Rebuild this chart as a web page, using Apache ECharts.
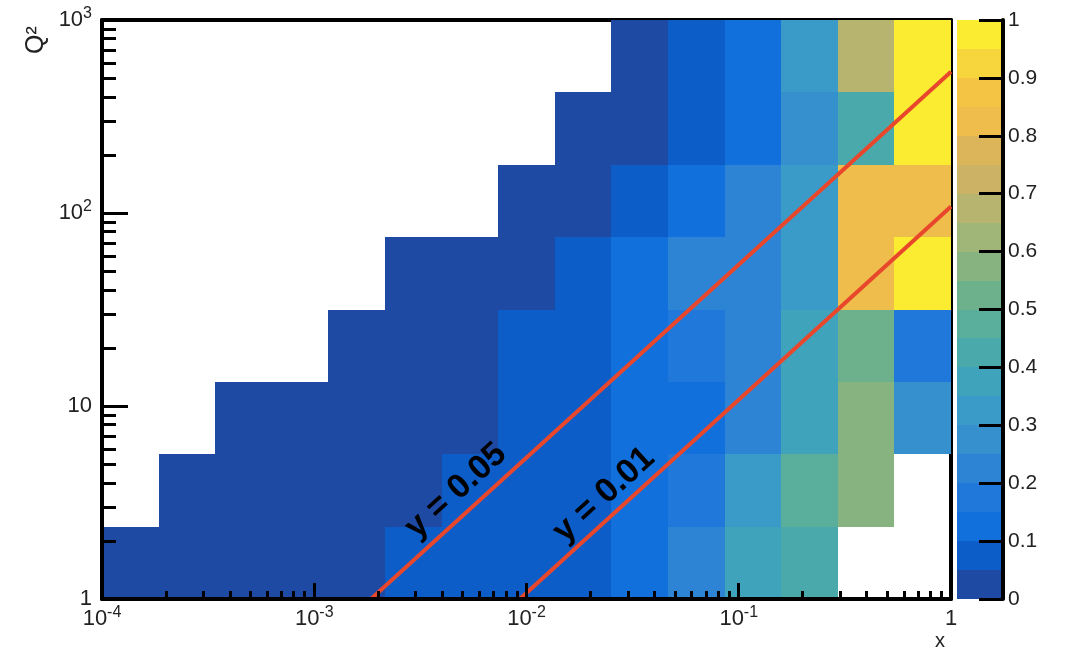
<!DOCTYPE html>
<html>
<head>
<meta charset="utf-8">
<script src="https://cdn.jsdelivr.net/npm/echarts@6/dist/echarts.min.js"></script>
<style>
  html, body { margin: 0; padding: 0; background: #fff; }
  #chart { width: 1071px; height: 654px; }
</style>
</head>
<body>
<div id="chart"></div>
<script>
// 2D histogram x vs Q2, log binning
var xEdges = [1e-4, 1.848e-4, 3.415e-4, 6.310e-4, 1.166e-3, 2.154e-3, 3.981e-3, 7.356e-3,
              1.359e-2, 2.512e-2, 4.642e-2, 8.577e-2, 0.1585, 0.2929, 0.5412, 1];
var q2Edges = [1, 2.371, 5.623, 13.34, 31.62, 74.99, 177.8, 421.7, 1000];

// bin contents, bottom Q2 row first, null = empty bin
var row0 = [0.02, 0.02, 0.02, 0.02, 0.02, 0.07, 0.07, 0.07, 0.07, 0.12, 0.22, 0.37, 0.42, null, null];
var row1 = [null, 0.02, 0.02, 0.02, 0.02, 0.02, 0.07, 0.07, 0.07, 0.12, 0.17, 0.32, 0.47, 0.57, null];
var row2 = [null, null, 0.02, 0.02, 0.02, 0.02, 0.02, 0.07, 0.07, 0.12, 0.12, 0.22, 0.37, 0.57, 0.27];
var row3 = [null, null, null, null, 0.02, 0.02, 0.02, 0.07, 0.07, 0.12, 0.17, 0.22, 0.37, 0.52, 0.17];
var row4 = [null, null, null, null, null, 0.02, 0.02, 0.02, 0.07, 0.12, 0.22, 0.22, 0.32, 0.82, 0.97];
var row5 = [null, null, null, null, null, null, null, 0.02, 0.02, 0.07, 0.12, 0.22, 0.32, 0.82, 0.82];
var row6 = [null, null, null, null, null, null, null, null, 0.02, 0.02, 0.07, 0.12, 0.27, 0.42, 0.97];
var row7 = [null, null, null, null, null, null, null, null, null, 0.02, 0.07, 0.12, 0.32, 0.67, 0.97];
var rows = [row0, row1, row2, row3, row4, row5, row6, row7];

// y = Q2/(s x) lines
var lineY005 = [[1.85e-3, 1], [1, 540]];
var lineY001 = [[9.3e-3, 1], [1, 108]];

// colour palette (20 contours)
var paletteEdges = [0, 0.05, 0.1, 0.15, 0.2, 0.25, 0.3, 0.35, 0.4, 0.45, 0.5,
                    0.55, 0.6, 0.65, 0.7, 0.75, 0.8, 0.85, 0.9, 0.95, 1];
var paletteColors = ['#1f4aa3', '#0c5dc8', '#1170dc', '#2079da', '#2d84d4', '#3690ce', '#3a9bc8',
                     '#40a3bc', '#4aaaab', '#5aae9c', '#6db08c', '#86b37f', '#9fb678', '#b6b46e',
                     '#cbb264', '#dcb55a', '#eebd4b', '#f4c445', '#f7d53d', '#fbec32'];

// ticks
var xMajorTicks = [1e-4, 1e-3, 1e-2, 1e-1, 1];
var yMajorTicks = [1, 10, 100, 1000];
function minorTicks(majors) {
    var out = [];
    for (var i = 0; i < majors.length - 1; i++) {
        for (var k = 2; k <= 9; k++) out.push(k * majors[i]);
    }
    return out;
}
var xMinorTicks = minorTicks(xMajorTicks);
var yMinorTicks = minorTicks(yMajorTicks);

var FONT = '"Liberation Sans", Helvetica, Arial, sans-serif';
var TXT = '#222';

function colorOf(v) {
    for (var i = 0; i < paletteColors.length; i++) {
        if (v >= paletteEdges[i] && v < paletteEdges[i + 1]) return paletteColors[i];
    }
    return paletteColors[paletteColors.length - 1];
}

var cells = [];
rows.forEach(function (row, j) {
    row.forEach(function (v, i) {
        if (v == null) return;
        cells.push([xEdges[i], xEdges[i + 1], q2Edges[j], q2Edges[j + 1], v]);
    });
});

var paletteData = paletteColors.map(function (c, i) {
    return [paletteEdges[i], paletteEdges[i + 1], i];
});

function powLabel(v) {
    var e = Math.round(Math.log10(v));
    if (e === 0) return '{b|1}';
    if (e === 1) return '{b|10}';
    return '{b|10}{s|' + e + '}';
}

var labelRich = {
    b: { fontFamily: FONT, fontSize: 22, lineHeight: 28, color: TXT },
    s: { fontFamily: FONT, fontSize: 16, lineHeight: 10, verticalAlign: 'top', color: TXT }
};

var thick = { color: '#000', width: 4 };
var tickStyle = { color: '#000', width: 3 };

var chart = echarts.init(document.getElementById('chart'));

var option = {
    animation: false,
    backgroundColor: '#fff',
    grid: [
        { left: 102, right: 120, top: 20, bottom: 55 },
        { left: 957, right: 68, top: 20, bottom: 55 }
    ],
    xAxis: [
        {
            type: 'log', gridIndex: 0, position: 'bottom', min: 1e-4, max: 1, z: 5,
            axisLine: { onZero: false, lineStyle: thick },
            axisTick: { inside: true, length: 16, lineStyle: tickStyle, customValues: xMajorTicks },
            axisLabel: { customValues: xMajorTicks, margin: 6, formatter: powLabel, rich: labelRich },
            splitLine: { show: false }
        },
        {
            type: 'log', gridIndex: 0, position: 'bottom', min: 1e-4, max: 1, z: 5,
            axisLine: { show: false },
            axisTick: { inside: true, length: 8, lineStyle: tickStyle, customValues: xMinorTicks },
            axisLabel: { show: false },
            splitLine: { show: false }
        },
        {
            type: 'log', gridIndex: 0, position: 'top', min: 1e-4, max: 1,
            axisLine: { onZero: false, lineStyle: thick },
            axisTick: { show: false }, axisLabel: { show: false }, splitLine: { show: false }
        },
        { type: 'value', gridIndex: 1, min: 0, max: 1, show: false }
    ],
    yAxis: [
        {
            type: 'log', gridIndex: 0, position: 'left', min: 1, max: 1000, z: 5,
            axisLine: { onZero: false, lineStyle: thick },
            axisTick: { inside: true, length: 26, lineStyle: tickStyle, customValues: yMajorTicks },
            axisLabel: { customValues: yMajorTicks, margin: 10, formatter: powLabel, rich: labelRich },
            splitLine: { show: false }
        },
        {
            type: 'log', gridIndex: 0, position: 'left', min: 1, max: 1000, z: 5,
            axisLine: { show: false },
            axisTick: { inside: true, length: 14, lineStyle: tickStyle, customValues: yMinorTicks },
            axisLabel: { show: false },
            splitLine: { show: false }
        },
        {
            type: 'log', gridIndex: 0, position: 'right', min: 1, max: 1000,
            axisLine: { onZero: false, lineStyle: thick },
            axisTick: { show: false }, axisLabel: { show: false }, splitLine: { show: false }
        },
        {
            type: 'value', gridIndex: 1, position: 'right', min: 0, max: 1, interval: 0.1, z: 5,
            axisLine: { onZero: false, lineStyle: thick },
            axisTick: { inside: true, length: 24, lineStyle: tickStyle },
            axisLabel: { margin: 5, fontFamily: FONT, fontSize: 21, color: TXT },
            splitLine: { show: false }
        }
    ],
    series: [
        {
            type: 'custom',
            xAxisIndex: 0, yAxisIndex: 0, z: 2,
            encode: { x: [0, 1], y: [2, 3] },
            data: cells,
            renderItem: function (params, api) {
                var p0 = api.coord([api.value(0), api.value(2)]);
                var p1 = api.coord([api.value(1), api.value(3)]);
                var x0 = Math.round(p0[0]), x1 = Math.round(p1[0]);
                var y0 = Math.round(p1[1]), y1 = Math.round(p0[1]);
                return {
                    type: 'rect',
                    shape: { x: x0, y: y0, width: x1 - x0, height: y1 - y0 },
                    style: { fill: colorOf(api.value(4)) }
                };
            }
        },
        {
            type: 'custom',
            xAxisIndex: 3, yAxisIndex: 3, z: 2,
            encode: { y: [0, 1] },
            data: paletteData,
            renderItem: function (params, api) {
                var p0 = api.coord([0, api.value(0)]);
                var p1 = api.coord([1, api.value(1)]);
                var x0 = Math.round(p0[0]), x1 = Math.round(p1[0]);
                var y0 = Math.round(p1[1]), y1 = Math.round(p0[1]);
                return {
                    type: 'rect',
                    shape: { x: x0, y: y0, width: x1 - x0, height: y1 - y0 },
                    style: { fill: paletteColors[api.value(2)] }
                };
            }
        },
        {
            type: 'line', xAxisIndex: 0, yAxisIndex: 0, z: 3,
            data: lineY005, showSymbol: false, silent: true,
            lineStyle: { color: '#e9472c', width: 4 }
        },
        {
            type: 'line', xAxisIndex: 0, yAxisIndex: 0, z: 3,
            data: lineY001, showSymbol: false, silent: true,
            lineStyle: { color: '#e9472c', width: 4 }
        }
    ],
    graphic: [
        {
            type: 'text', x: 456, y: 491, rotation: 0.738, z: 10,
            style: { text: 'y = 0.05', font: 'bold 34px ' + FONT, fill: '#000',
                     align: 'center', verticalAlign: 'middle', textAlign: 'center', textVerticalAlign: 'middle' }
        },
        {
            type: 'text', x: 604, y: 495, rotation: 0.738, z: 10,
            style: { text: 'y = 0.01', font: 'bold 34px ' + FONT, fill: '#000',
                     align: 'center', verticalAlign: 'middle', textAlign: 'center', textVerticalAlign: 'middle' }
        },
        {
            type: 'text', x: 940, y: 641, z: 10,
            style: { text: 'x', font: '20px ' + FONT, fill: TXT,
                     align: 'center', verticalAlign: 'middle', textAlign: 'center', textVerticalAlign: 'middle' }
        },
        {
            type: 'text', x: 36, y: 40, rotation: Math.PI / 2, z: 10,
            style: { text: 'Q²', font: '25px ' + FONT, fill: TXT,
                     align: 'center', verticalAlign: 'middle', textAlign: 'center', textVerticalAlign: 'middle' }
        }
    ]
};

chart.setOption(option);
window.addEventListener('resize', function () {
    chart.resize();
});
</script>
</body>
</html>
